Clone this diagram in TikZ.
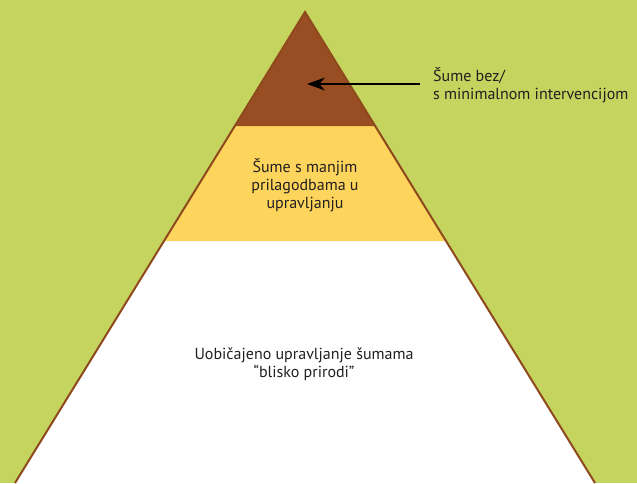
\documentclass[tikz,border=0pt]{standalone}
\usepackage{fontspec}
\setmainfont{PT Sans}
\usetikzlibrary{arrows.meta}
\definecolor{bggreen}{HTML}{C5D35F}
\definecolor{topbrown}{HTML}{994D22}
\definecolor{midyellow}{HTML}{FDD55C}
\definecolor{edgebrown}{HTML}{8E4A1C}
\definecolor{txt}{HTML}{231F20}
\tikzset{
  lbl/.style={text=txt, font=\fontsize{16}{18}\selectfont, align=center, inner sep=0pt},
}
\begin{document}
\begin{tikzpicture}[x=1pt,y=-1pt]
\useasboundingbox (0,0) rectangle (637,483);
\fill[bggreen] (0,0) rectangle (637,483);
% geometry
\coordinate (apex) at (305,12);
\coordinate (bl) at (15,483);
\coordinate (br) at (595,483);
\coordinate (t1l) at (235,126);
\coordinate (t1r) at (375,126);
\coordinate (t2l) at (164,241);
\coordinate (t2r) at (446,241);
\fill[white] (t2l) -- (t2r) -- (br) -- (bl) -- cycle;
\fill[midyellow] (t1l) -- (t1r) -- (t2r) -- (t2l) -- cycle;
\fill[topbrown] (apex) -- (t1r) -- (t1l) -- cycle;
\draw[edgebrown, line width=2pt] (bl) -- (apex) -- (br);
% labels
\node[lbl, align=left, anchor=west] (toplbl) at (433,85) {Šume bez/\\s minimalnom intervencijom};
\coordinate (tip) at (307,84);
\draw[-{Stealth[length=18pt,width=13pt]}, line width=1.1pt, black] (toplbl.west) ++(-13,-1) coordinate (astart) -- (tip);
\node[lbl] (midlbl) at (305,185) {Šume s manjim\\prilagodbama u\\upravljanju};
\node[lbl] (botlbl) at (304,364) {Uobičajeno upravljanje šumama\\“blisko prirodi”};
\end{tikzpicture}
\end{document}
